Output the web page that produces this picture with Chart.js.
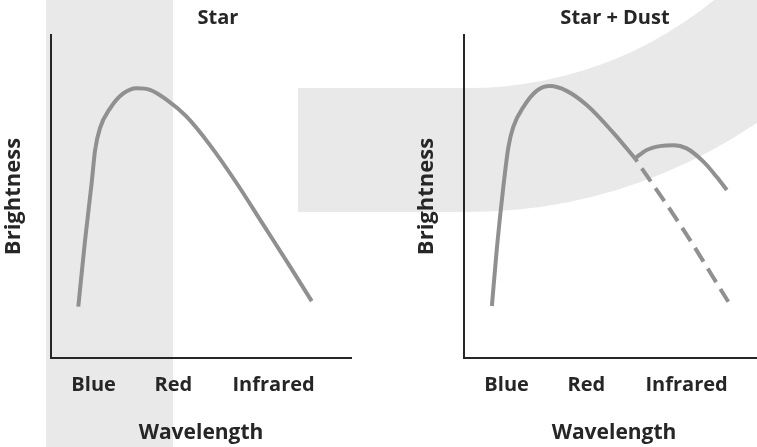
<!DOCTYPE html>
<html>
<head>
<meta charset="utf-8">
<script src="https://cdn.jsdelivr.net/npm/chart.js"></script>
<style>
  html, body { margin: 0; padding: 0; background: #fff; }
  body { position: relative; width: 757px; height: 447px; overflow: hidden; }
  canvas { position: absolute; top: 0; }
  #bg { left: 0; }
  #star { left: 0; }
  #dust { left: 413px; }
</style>
</head>
<body>
<canvas id="bg" width="757" height="447"></canvas>
<canvas id="star" width="413" height="447"></canvas>
<canvas id="dust" width="413" height="447"></canvas>
<script>
// wavelength bands along the x axis
const bandNames = ['Blue', 'Red', 'Infrared'];
const bandAt = [1.42, 4.08, 7.42];

// bare star spectrum
const starX = [0.91, 1.13, 1.36, 1.47, 1.63, 1.97, 2.41, 2.86, 3.3, 3.86, 4.52, 5.3, 6.19, 7.08, 7.97, 8.69];
const starY = [15.9, 36.0, 54.6, 64.4, 71.1, 77.3, 81.9, 83.5, 83.0, 79.9, 74.7, 65.9, 54.1, 41.2, 28.3, 17.6];

// star + dust: stellar part up to where the dust bump starts
const dustStarX = [0.93, 1.09, 1.31, 1.48, 1.64, 1.98, 2.42, 2.87, 3.42, 4.09, 4.98, 5.7];
const dustStarY = [16.1, 33.4, 52.9, 65.3, 71.5, 77.7, 82.7, 84.2, 82.7, 78.3, 69.7, 61.8];
// dust re-emission bump
const bumpX = [5.7, 6.09, 6.53, 6.98, 7.42, 7.98, 8.42, 8.76];
const bumpY = [61.8, 64.4, 65.6, 65.9, 64.9, 60.8, 56.1, 52.0];
// what the star alone would have given (dashed)
const hiddenX = [5.7, 7.26, 8.81];
const hiddenY = [61.8, 40.5, 17.4];

const INK = '#262626';
const CURVE = '#909090';
const FAMILY = '"Open Sans", sans-serif';
const font = size => ({ family: FAMILY, size, weight: 'bold' });

const toPoints = (xs, ys) => xs.map((x, i) => ({ x, y: ys[i] }));

// soft grey backdrop shapes
(function drawBackdrop() {
  const ctx = document.getElementById('bg').getContext('2d');
  ctx.fillStyle = '#e9e9e9';
  ctx.fillRect(46, 0, 127, 447);
  ctx.fillRect(298, 88, 170, 124);
  ctx.beginPath();
  ctx.arc(468, -300, 512, -Math.PI / 2, Math.PI / 2, false);
  ctx.arc(468, -300, 388, Math.PI / 2, -Math.PI / 2, true);
  ctx.closePath();
  ctx.fill();
})();

// panel heading, centred over the plot area
const panelTitle = {
  id: 'panelTitle',
  afterDraw(chart, args, opts) {
    const { ctx, chartArea } = chart;
    ctx.save();
    ctx.font = `bold 20px ${FAMILY}`;
    ctx.fillStyle = INK;
    ctx.textAlign = 'center';
    ctx.textBaseline = 'middle';
    ctx.fillText(opts.text, (chartArea.left + chartArea.right) / 2 + opts.shift, chartArea.top - 17);
    ctx.restore();
  }
};

function lineSet(points, dashed) {
  return {
    data: points,
    borderColor: CURVE,
    borderWidth: 4,
    borderDash: dashed ? [16, 8] : [],
    borderDashOffset: dashed ? 12 : 0,
    pointRadius: 0,
    cubicInterpolationMode: 'monotone',
    fill: false
  };
}

function makeChart(id, title, shift, datasets) {
  return new Chart(document.getElementById(id), {
    type: 'line',
    data: { datasets },
    plugins: [panelTitle],
    options: {
      responsive: false,
      animation: false,
      devicePixelRatio: 1,
      layout: { padding: { top: 35, right: 62, left: 0, bottom: 0 } },
      plugins: {
        legend: { display: false },
        tooltip: { enabled: false },
        panelTitle: { text: title, shift }
      },
      scales: {
        x: {
          type: 'linear',
          min: 0,
          max: 10,
          afterFit: s => { s.height = 89; },
          afterBuildTicks: s => { s.ticks = bandAt.map(v => ({ value: v })); },
          grid: { display: false, drawTicks: false },
          border: { display: true, color: INK, width: 2 },
          ticks: {
            autoSkip: false,
            maxRotation: 0,
            padding: 15,
            color: INK,
            font: font(20),
            callback: (v, i) => bandNames[i]
          },
          title: { display: true, text: 'Wavelength', color: INK, font: font(21), padding: { top: 0, bottom: 1 } }
        },
        y: {
          min: 0,
          max: 100,
          afterFit: s => { s.width = 51; },
          grid: { display: false, drawTicks: false },
          border: { display: true, color: INK, width: 2 },
          ticks: { display: false },
          title: { display: true, text: 'Brightness', color: INK, font: font(22), padding: { top: 1, bottom: 0 } }
        }
      }
    }
  });
}

makeChart('star', 'Star', 17, [lineSet(toPoints(starX, starY))]);
makeChart('dust', 'Star + Dust', 1, [
  lineSet(toPoints(dustStarX, dustStarY)),
  lineSet(toPoints(bumpX, bumpY)),
  lineSet(toPoints(hiddenX, hiddenY), true)
]);
</script>
</body>
</html>
